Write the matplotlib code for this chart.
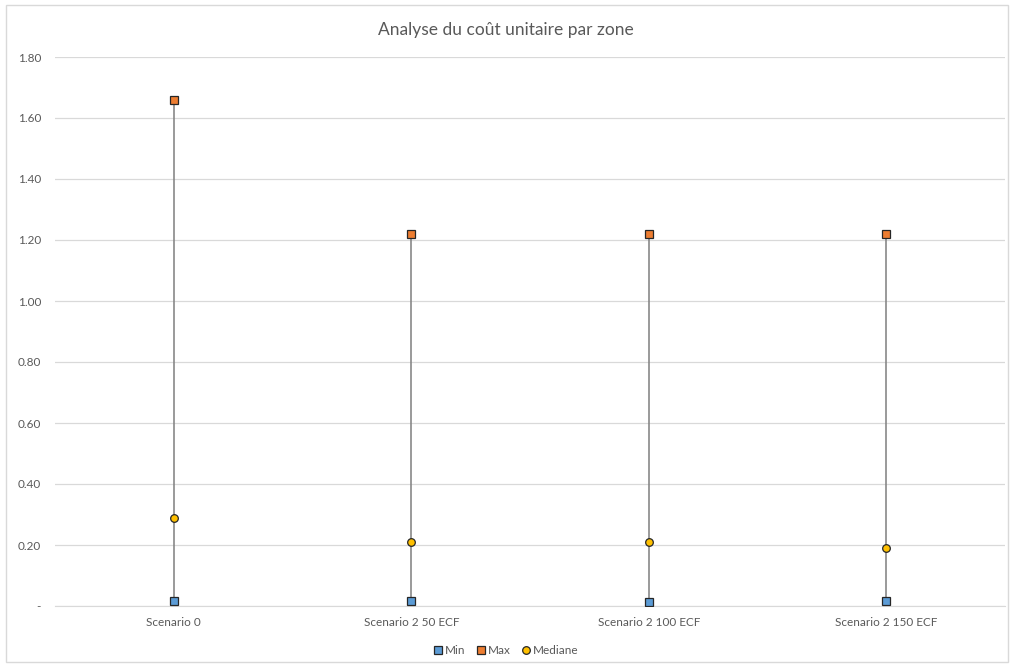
import numpy as np
import matplotlib.pyplot as plt
from matplotlib.patches import Rectangle
from matplotlib.ticker import FuncFormatter

categories = ['Scenario 0', 'Scenario 2 50 ECF', 'Scenario 2 100 ECF', 'Scenario 2 150 ECF']
min_vals = [0.015, 0.015, 0.012, 0.015]
max_vals = [1.66, 1.22, 1.22, 1.22]
median_vals = [0.29, 0.21, 0.21, 0.19]

plt.rcParams['font.family'] = ['Lato', 'DejaVu Sans']

fig = plt.figure(figsize=(10.11, 6.66), dpi=100)
fig.patches.append(Rectangle((6 / 1011, 4 / 666), 1002 / 1011, 657 / 666,
                             transform=fig.transFigure, fill=False,
                             edgecolor='#d9d9d9', linewidth=1))
ax = fig.add_axes([55 / 1011, 60 / 666, 950 / 1011, 549 / 666])

x = np.arange(len(categories))
ax.vlines(x, min_vals, max_vals, color='#7f7f7f', linewidth=1.1, zorder=2)
ax.plot(x, min_vals, 's', ms=5.5, mfc='#5B9BD5', mec='#262626', mew=0.9, ls='none', label='Min', zorder=3)
ax.plot(x, max_vals, 's', ms=5.5, mfc='#ED7D31', mec='#262626', mew=0.9, ls='none', label='Max', zorder=3)
ax.plot(x, median_vals, 'o', ms=5.5, mfc='#FFC000', mec='#262626', mew=0.9, ls='none', label='Mediane', zorder=3)

ax.set_xlim(-0.5, len(categories) - 0.5)
ax.set_ylim(0, 1.8)
ax.set_yticks(np.arange(0, 1.81, 0.2))
ax.yaxis.set_major_formatter(FuncFormatter(lambda v, p: '-' if abs(v) < 1e-9 else f'{v:.2f}'))
ax.set_xticks(x)
ax.set_xticklabels(categories)
ax.grid(axis='y', color='#d9d9d9', linewidth=0.9)
ax.set_axisbelow(True)
for s in ['top', 'right', 'left']:
    ax.spines[s].set_visible(False)
ax.spines['bottom'].set_color('#d9d9d9')
ax.tick_params(axis='both', length=0, labelsize=8.5, labelcolor='#595959')
ax.tick_params(axis='y', pad=10)
ax.tick_params(axis='x', pad=8)

fig.text(0.5, 1 - 30 / 666, 'Analyse du coût unitaire par zone', ha='center', va='center',
         fontsize=12.5, color='#595959')
fig.legend(loc='center', bbox_to_anchor=(0.5, 1 - 651 / 666), ncol=3, frameon=False,
           fontsize=8.5, handletextpad=0.1, columnspacing=0.8, labelcolor='#595959',
           handlelength=1.0)

fig.savefig('out.png', dpi=100)
